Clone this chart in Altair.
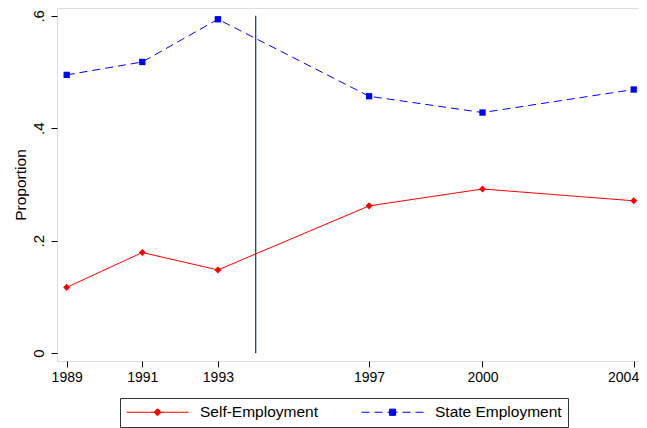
import altair as alt
import pandas as pd

years = [1989, 1991, 1993, 1997, 2000, 2004]
self_emp = [0.117, 0.179, 0.148, 0.262, 0.292, 0.271]
state_emp = [0.495, 0.518, 0.594, 0.457, 0.428, 0.469]
series_names = ["Self-Employment", "State Employment"]
x_ticks = [1989, 1991, 1993, 1997, 2000, 2004]
y_ticks = [0, 0.2, 0.4, 0.6]
reform_year = [1994]

df = pd.DataFrame({
    "year": years * 2,
    "value": self_emp + state_emp,
    "series": [series_names[0]] * len(years) + [series_names[1]] * len(years),
})
vline = pd.DataFrame({"year": reform_year, "y0": [0.0], "y1": [0.6]})

FONT = "Liberation Sans"

xscale = alt.Scale(domain=[1988.744, 2004.14], zero=False, nice=False)
yscale = alt.Scale(domain=[-0.014, 0.614], zero=False, nice=False)

xenc = alt.X("year:Q", scale=xscale,
             axis=alt.Axis(values=x_ticks, format="d", title=None, grid=False,
                           domain=False, ticks=True, tickSize=6, tickColor="#000",
                           labelFont=FONT, labelFontSize=14, labelColor="#000",
                           labelPadding=3, labelFlush=7, labelFlushOffset=5,
                           labelOverlap=False))
yenc = alt.Y("value:Q", scale=yscale,
             axis=alt.Axis(values=y_ticks, title="Proportion", grid=False,
                           domain=False, tickSize=6, tickColor="#000",
                           labelExpr="datum.value == 0 ? '0' : replace(format(datum.value, '.1f'), '0.', '.')",
                           labelAngle=270, labelFont=FONT, labelFontSize=15,
                           labelColor="#000", labelPadding=5,
                           titleFont=FONT, titleFontSize=15.5, titleFontWeight="normal",
                           titleColor="#000", titlePadding=3))

base = alt.Chart(df)

red_line = base.transform_filter(alt.datum.series == series_names[0]).mark_line(
    color="#ff0000", strokeWidth=1).encode(x=xenc, y=yenc)
blue_line = base.transform_filter(alt.datum.series == series_names[1]).mark_line(
    color="#0000ff", strokeWidth=1, strokeDash=[8, 5]).encode(x=xenc, y=yenc)
red_pts = base.transform_filter(alt.datum.series == series_names[0]).mark_point(
    shape="diamond", filled=True, size=50, opacity=1, color="#ff0000").encode(x=xenc, y=yenc)
blue_pts = base.transform_filter(alt.datum.series == series_names[1]).mark_point(
    shape="square", filled=True, size=40, opacity=1, color="#0000ff").encode(x=xenc, y=yenc)

rule = alt.Chart(vline).mark_rule(color="#1a476f", strokeWidth=1.3).encode(
    x=alt.X("year:Q", scale=xscale), y=alt.Y("y0:Q", scale=yscale), y2="y1:Q")

red_sym = "M-1,0H1M0,-0.115L0.115,0L0,0.115L-0.115,0Z"
blue_sym = ("M-1,0H-0.74M-0.58,0H-0.32M-0.16,0H0.16M0.32,0H0.58M0.74,0H1"
            "M-0.1,-0.1H0.1V0.1H-0.1Z")

legend = alt.Legend(title=None, orient="none", legendX=63, legendY=390,
                    direction="horizontal", padding=6, strokeColor="#333",
                    fillColor="#fff", labelFont=FONT, labelFontSize=15.5,
                    labelColor="#000", labelOffset=11, symbolSize=3844,
                    symbolStrokeWidth=1, clipHeight=16, columnPadding=42)

legend_layer = base.transform_filter("datum.value < -5").mark_point(
    filled=False, opacity=1, strokeWidth=1).encode(
    x=alt.X("year:Q", scale=xscale), y=alt.Y("value:Q", scale=yscale),
    color=alt.Color("series:N", scale=alt.Scale(domain=series_names, range=["#ff0000", "#0000ff"]), legend=legend),
    fill=alt.Fill("series:N", scale=alt.Scale(domain=series_names, range=["#ff0000", "#0000ff"]), legend=legend),
    shape=alt.Shape("series:N", scale=alt.Scale(domain=series_names, range=[red_sym, blue_sym]), legend=legend),
)

chart = alt.layer(rule, red_line, blue_line, red_pts, blue_pts, legend_layer).properties(
    width=582, height=353,
    autosize=alt.AutoSizeParams(type="none"),
    padding={"left": 49, "top": 0, "right": 0, "bottom": 67},
).configure_view(stroke="#111", strokeWidth=2).configure(background="#fff")

chart.save("out.html", embed_options={"renderer": "svg", "actions": False})
